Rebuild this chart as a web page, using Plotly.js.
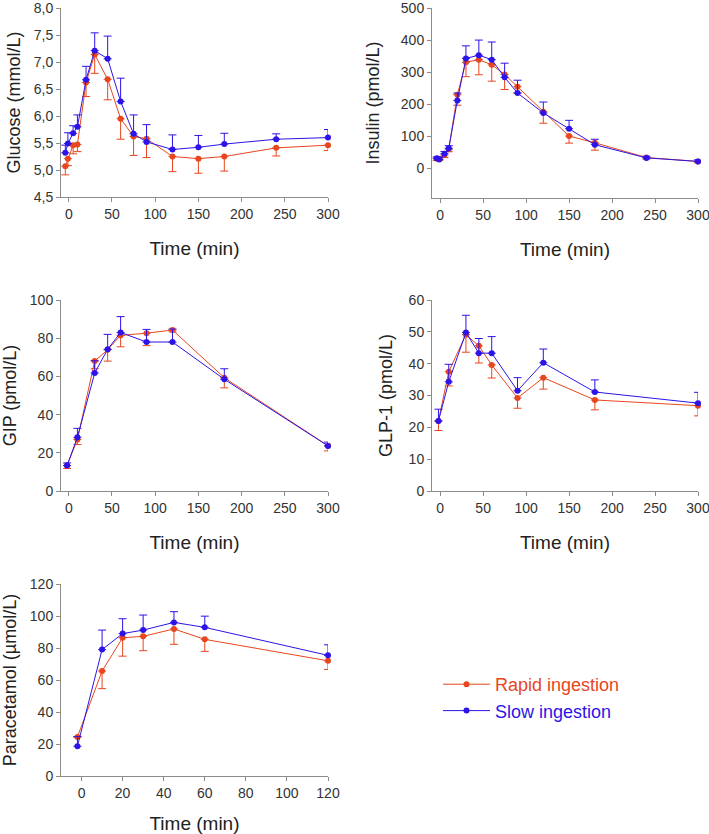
<!DOCTYPE html>
<html>
<head>
<meta charset="utf-8">
<script src="https://cdn.plot.ly/plotly-3.0.1.min.js"></script>
<style>
  html, body { margin: 0; padding: 0; background: #fff; }
  #chart { width: 709px; height: 834px; }
</style>
</head>
<body>
<div id="chart"></div>
<script>
// values (mean, SEM)
const glucoseTime = [-4, -1, 5, 10, 20, 30, 45, 60, 75, 90, 120, 150, 180, 240, 300];
const glucoseRapid = [5.07, 5.21, 5.46, 5.47, 6.62, 7.14, 6.68, 5.95, 5.62, 5.58, 5.25, 5.21, 5.25, 5.41, 5.46];
const glucoseRapidSem = [0.16, 0.13, 0.16, 0.13, 0.26, 0.35, 0.38, 0.38, 0.35, 0.35, 0.28, 0.27, 0.27, 0.15, 0.10];
const glucoseSlow = [5.32, 5.49, 5.68, 5.80, 6.67, 7.21, 7.06, 6.27, 5.67, 5.52, 5.38, 5.42, 5.48, 5.57, 5.60];
const glucoseSlowSem = [0.14, 0.20, 0.14, 0.22, 0.25, 0.33, 0.42, 0.43, 0.35, 0.32, 0.27, 0.22, 0.20, 0.10, 0.15];

const insulinTime = [-4, -1, 5, 10, 20, 30, 45, 60, 75, 90, 120, 150, 180, 240, 300];
const insulinRapid = [30, 30, 42, 60, 230, 331, 339, 323, 293, 255, 177, 101, 80, 34, 22];
const insulinRapidSem = [5, 5, 8, 8, 33, 45, 47, 51, 47, 20, 36, 22, 23, 5, 4];
const insulinSlow = [32, 28, 46, 63, 212, 343, 353, 339, 284, 235, 173, 124, 74, 33, 22];
const insulinSlowSem = [4, 6, 7, 8, 23, 39, 47, 55, 44, 40, 34, 26, 17, 5, 5];

const gipTime = [-2, 10, 30, 45, 60, 90, 120, 180, 300];
const gipRapid = [13.3, 27, 68, 74, 81.5, 82.6, 84.3, 59.3, 23.7];
const gipRapidSem = [1.5, 2.7, 4, 6, 6, 6.5, 1, 5.3, 2.7];
const gipSlow = [13.3, 28.1, 61.8, 74.2, 83, 78, 78, 58.5, 23.6];
const gipSlowSem = [1.4, 4.7, 6.4, 7.8, 8.3, 6.6, 6.8, 5.5, 2];

const glpTime = [-2, 10, 30, 45, 60, 90, 120, 180, 300];
const glpRapid = [22, 37.5, 49.1, 45.6, 39.6, 29.2, 35.6, 28.6, 26.8];
const glpRapidSem = [3, 4.5, 5.5, 5.4, 4.1, 3.2, 3.6, 3.1, 3.2];
const glpSlow = [22, 34.3, 49.8, 43.3, 43.3, 31.5, 40.3, 31.1, 27.6];
const glpSlowSem = [3.7, 5.5, 5.4, 4.6, 5.2, 4.1, 4.3, 3.8, 3.4];

const paraTime = [-2, 10, 20, 30, 45, 60, 120];
const paraRapid = [24.4, 65.6, 86.4, 87.3, 91.9, 85.4, 72];
const paraRapidSem = [0, 11, 11.5, 9, 9.6, 7.5, 5.4];
const paraSlow = [18.6, 79, 89, 91.2, 96, 92.9, 75.4];
const paraSlowSem = [6, 12.2, 9.3, 9.4, 6.7, 7, 6.6];

const seriesNames = ['Rapid ingestion', 'Slow ingestion'];
const yTitles = ['Glucose (mmol/L)', 'Insulin (pmol/L)', 'GIP (pmol/L)', 'GLP-1 (pmol/L)', 'Paracetamol (µmol/L)'];
const xTitle = 'Time (min)';

const RED = '#e8461e';
const BLUE = '#2c14e8';
const W = 709, H = 834;
const FONT = 'Liberation Sans, Arial, sans-serif';

// panel boxes in pixels: [left, right, top, bottom]
const panels = [
  { t: glucoseTime, r: glucoseRapid, rs: glucoseRapidSem, s: glucoseSlow, ss: glucoseSlowSem,
    box: [61, 328, 8, 197], xr: [-9, 300], xd: 50, yr: [4.5, 8.0], yd: 0.5, yfmt: '.1f', ys: 8 },
  { t: insulinTime, r: insulinRapid, rs: insulinRapidSem, s: insulinSlow, ss: insulinSlowSem,
    box: [432, 698, 8, 198], xr: [-9.5, 300], xd: 50, yr: [-92, 500], yd: 100, ys: 16 },
  { t: gipTime, r: gipRapid, rs: gipRapidSem, s: gipSlow, ss: gipSlowSem,
    box: [61, 328, 300, 491], xr: [-9, 300], xd: 50, yr: [0, 100], yd: 20, ys: 10 },
  { t: glpTime, r: glpRapid, rs: glpRapidSem, s: glpSlow, ss: glpSlowSem,
    box: [432, 698, 300, 491], xr: [-9.5, 300], xd: 50, yr: [0, 60], yd: 10, ys: 11 },
  { t: paraTime, r: paraRapid, rs: paraRapidSem, s: paraSlow, ss: paraSlowSem,
    box: [61, 328, 584, 776], xr: [-10, 120], xd: 20, yr: [0, 120], yd: 20, ys: 10 }
];

const axisBase = {
  showline: true, linecolor: '#8c8c8c', linewidth: 1,
  ticks: 'outside', ticklen: 4, tickcolor: '#8c8c8c', tickwidth: 1,
  showgrid: false, zeroline: false, fixedrange: true,
  ticklabeloverflow: 'allow',
  tickfont: { family: FONT, size: 14, color: '#333' }
};

const traces = [];
const layout = {
  width: W, height: H,
  margin: { l: 0, r: 0, t: 0, b: 0 },
  paper_bgcolor: '#fff', plot_bgcolor: '#fff',
  separators: ',.',
  font: { family: FONT },
  showlegend: true,
  legend: {
    x: 438 / W, y: 1 - 666 / H, xanchor: 'left', yanchor: 'top',
    bgcolor: 'rgba(0,0,0,0)', itemwidth: 47,
    font: { family: FONT, size: 18 }, tracegroupgap: 0
  }
};

panels.forEach((p, i) => {
  const n = i === 0 ? '' : String(i + 1);
  const xa = 'x' + n, ya = 'y' + n;
  [[p.r, p.rs, RED, 0], [p.s, p.ss, BLUE, 1]].forEach(([vals, sem, col, k]) => {
    // rapid: SEM drawn downward, slow: SEM drawn upward
    const err = k === 0
      ? { type: 'data', symmetric: false, array: sem.map(() => 0), arrayminus: sem }
      : { type: 'data', symmetric: false, array: sem, arrayminus: sem.map(() => 0) };
    traces.push({
      x: p.t, y: vals, xaxis: xa, yaxis: ya,
      type: 'scatter', mode: 'lines+markers', cliponaxis: false,
      name: '<span style="color:' + col + '">' + seriesNames[k] + '</span>',
      legendgroup: seriesNames[k], showlegend: i === 0,
      line: { color: col, width: 1 },
      marker: { color: col, size: 6 },
      error_y: Object.assign(err, { color: col, thickness: 1, width: 4 }),
      hoverinfo: 'x+y'
    });
  });
  const [l, r, t, b] = p.box;
  layout['xaxis' + n] = Object.assign({}, axisBase, {
    domain: [l / W, r / W], anchor: ya, range: p.xr, dtick: p.xd, tick0: 0,
    title: { text: xTitle, font: { family: FONT, size: 19, color: '#222' }, standoff: 20 }
  });
  layout['yaxis' + n] = Object.assign({}, axisBase, {
    domain: [1 - b / H, 1 - t / H], anchor: xa, range: p.yr, dtick: p.yd, tick0: 0,
    tickformat: p.yfmt || '',
    title: { text: yTitles[i], font: { family: FONT, size: 18, color: '#222' }, standoff: p.ys }
  });
});

Plotly.newPlot('chart', traces, layout, { displayModeBar: false, staticPlot: true });
</script>
</body>
</html>
